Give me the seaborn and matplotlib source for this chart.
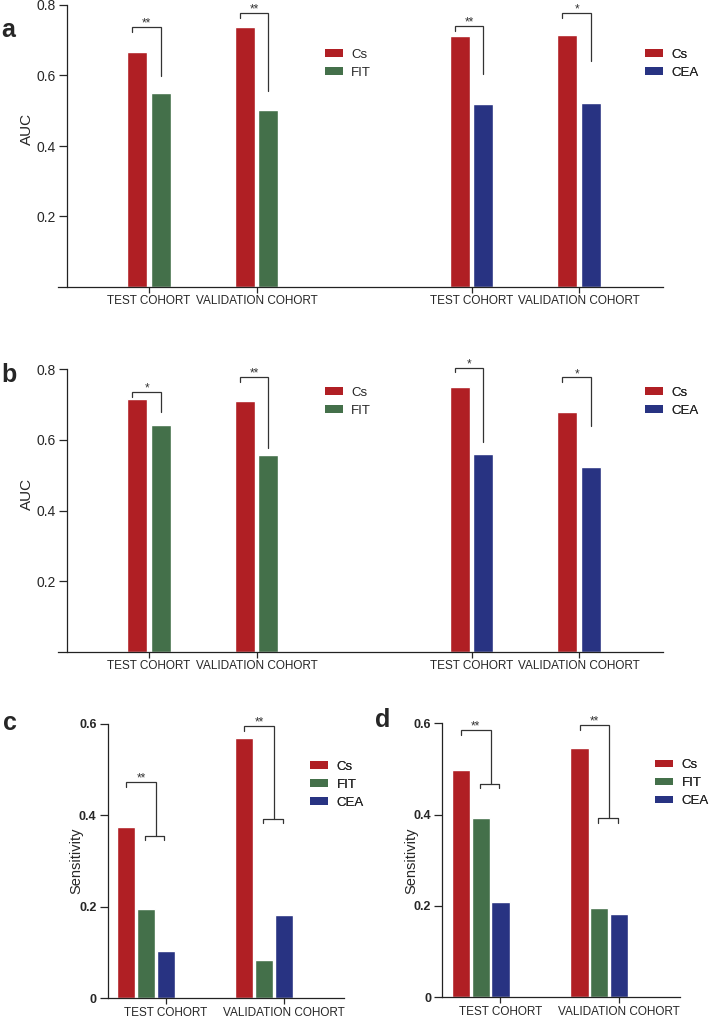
import matplotlib
matplotlib.use("Agg")
from matplotlib import pyplot as plt
from matplotlib.patches import Patch
import pandas as pd
import seaborn as sns

cohorts = ["TEST COHORT", "VALIDATION COHORT"]

# panel a: AUC
a_fit_cs = [0.667, 0.739]
a_fit = [0.549, 0.502]
a_cea_cs = [0.711, 0.716]
a_cea = [0.519, 0.522]
a_fit_stars = ["**", "**"]
a_cea_stars = ["**", "*"]
a_fit_top = [0.737, 0.778]
a_fit_end = [0.599, 0.556]
a_cea_top = [0.740, 0.777]
a_cea_end = [0.604, 0.641]

# panel b: AUC
b_fit_cs = [0.715, 0.710]
b_fit = [0.642, 0.556]
b_cea_cs = [0.749, 0.679]
b_cea = [0.559, 0.524]
b_fit_stars = ["*", "**"]
b_cea_stars = ["*", "*"]
b_fit_top = [0.735, 0.779]
b_fit_end = [0.678, 0.576]
b_cea_top = [0.805, 0.777]
b_cea_end = [0.593, 0.640]

# panel c / d: sensitivity
c_cs = [0.375, 0.570]
c_fit = [0.195, 0.084]
c_cea = [0.104, 0.182]
c_top = [0.4725, 0.596]
c_join = [0.356, 0.392]
c_stars = ["**", "**"]

d_cs = [0.497, 0.545]
d_fit = [0.392, 0.196]
d_cea = [0.208, 0.182]
d_top = [0.586, 0.596]
d_join = [0.468, 0.392]
d_stars = ["**", "**"]

RED = "#b01f24"
GREEN = "#44704a"
BLUE = "#283382"
LINE = "#333333"

sns.set_style("ticks")
plt.rcParams["font.family"] = ["Liberation Sans", "DejaVu Sans"]
plt.rcParams["axes.linewidth"] = 0.9
plt.rcParams["axes.edgecolor"] = "#222222"

fig = plt.figure(figsize=(7.11, 10.19), dpi=100)
W, H = 711, 1019


def add_ax(left, right, top, bottom):
    return fig.add_axes([left / W, 1 - bottom / H, (right - left) / W, (bottom - top) / H])


def bracket(ax, x0, x1, top, end, drop, stars):
    ax.plot([x0, x0, x1, x1], [top - drop, top, top, end], color=LINE, lw=0.9,
            clip_on=False, solid_joinstyle="miter")
    ax.annotate(stars, xy=((x0 + x1) / 2, top), xytext=(0, 2.5), textcoords="offset points",
                ha="center", va="center", fontsize=8.5, color=LINE, annotation_clip=False)


def centers(container):
    return sorted(p.get_x() + p.get_width() / 2 for p in container)


def style_axis(ax, yticks, ylabel, fs):
    sns.despine(ax=ax)
    ax.set_yticks(yticks)
    ax.set_yticklabels([("%g" % v) for v in yticks], fontweight="bold", fontsize=9)
    ax.tick_params(axis="y", length=6, width=0.9, pad=2)
    ax.tick_params(axis="x", length=4, width=0.9, pad=2, labelsize=8.5)
    ax.set_xlabel("")
    ax.set_ylabel(ylabel, fontsize=fs)


def legend(ax, labels, colors, x, y):
    handles = [Patch(facecolor=c, edgecolor="none") for c in colors]
    lg = ax.legend(handles, labels, loc="upper left", bbox_to_anchor=(x, y), frameon=False,
                   fontsize=9.5, handlelength=1.35, handleheight=0.47, handletextpad=0.65,
                   labelspacing=0.45, borderpad=0, borderaxespad=0)
    ax.add_artist(lg)


def auc_panel(ax, fit_cs, fit, cea_cs, cea, fit_stars, cea_stars,
              fit_top, fit_end, cea_top, cea_end, leg_y):
    left = pd.DataFrame({"pos": [0, 1, 0, 1], "AUC": fit_cs + fit,
                         "marker": ["Cs"] * 2 + ["FIT"] * 2})
    right = pd.DataFrame({"pos": [3, 4, 3, 4], "AUC": cea_cs + cea,
                          "marker": ["Cs"] * 2 + ["CEA"] * 2})
    sns.barplot(data=left, x="pos", y="AUC", hue="marker", hue_order=["Cs", "FIT"],
                palette=[RED, GREEN], saturation=1, native_scale=True, width=0.44, gap=0.15,
                errorbar=None, legend=False, ax=ax)
    sns.barplot(data=right, x="pos", y="AUC", hue="marker", hue_order=["Cs", "CEA"],
                palette=[RED, BLUE], saturation=1, native_scale=True, width=0.44, gap=0.15,
                errorbar=None, legend=False, ax=ax)
    cs1, fit1, cs2, cea2 = [centers(c) for c in ax.containers]
    for i in range(2):
        bracket(ax, cs1[i] - 0.045, fit1[i], fit_top[i], fit_end[i], 0.014, fit_stars[i])
        bracket(ax, cs2[i] - 0.045, cea2[i], cea_top[i], cea_end[i], 0.014, cea_stars[i])
    ax.set_xlim(-0.847, 4.781)
    ax.set_ylim(0, 0.8)
    ax.set_xticks([0, 1, 3, 4])
    ax.set_xticklabels(cohorts + cohorts)
    style_axis(ax, [0.2, 0.4, 0.6, 0.8], "AUC", 11)
    ax.spines["left"].set_position(("data", -0.763))
    ax.yaxis.set_label_coords(-0.040, 0.56)
    legend(ax, ["Cs", "FIT"], [RED, GREEN], 0.441, leg_y)
    legend(ax, ["Cs", "CEA"], [RED, BLUE], 0.970, leg_y)


def sens_panel(ax, cs, fit, cea, top, join, stars, leg_x, leg_y, label_x):
    df = pd.DataFrame({"pos": [0, 1] * 3, "Sensitivity": cs + fit + cea,
                       "marker": ["Cs"] * 2 + ["FIT"] * 2 + ["CEA"] * 2})
    sns.barplot(data=df, x="pos", y="Sensitivity", hue="marker",
                hue_order=["Cs", "FIT", "CEA"], palette=[RED, GREEN, BLUE], saturation=1,
                native_scale=True, width=0.5, gap=0.08, errorbar=None, legend=False, ax=ax)
    r, g, b = [centers(c) for c in ax.containers]
    for i in range(2):
        mid = (g[i] + b[i]) / 2
        bracket(ax, r[i], mid, top[i], join[i], 0.011, stars[i])
        ax.plot([g[i] - 0.01, g[i] - 0.01, b[i] - 0.01, b[i] - 0.01],
                [join[i] - 0.0095, join[i], join[i], join[i] - 0.0095],
                color=LINE, lw=0.9, clip_on=False)
    ax.set_xlim(-0.324, 1.68)
    ax.set_ylim(0, 0.6)
    ax.set_xticks(b)
    ax.set_xticklabels(cohorts)
    style_axis(ax, [0, 0.2, 0.4, 0.6], "Sensitivity", 10.5)
    ax.yaxis.set_label_coords(label_x, 0.5)
    legend(ax, ["Cs", "FIT", "CEA"], [RED, GREEN, BLUE], leg_x, leg_y)


ax_a = add_ax(58, 663, 5, 287)
ax_b = add_ax(58, 663, 369.3, 651.7)
ax_c = add_ax(107.7, 344.3, 724, 998.3)
ax_d = add_ax(442.3, 680, 723.3, 997.3)

auc_panel(ax_a, a_fit_cs, a_fit, a_cea_cs, a_cea, a_fit_stars, a_cea_stars,
          a_fit_top, a_fit_end, a_cea_top, a_cea_end, 0.845)
auc_panel(ax_b, b_fit_cs, b_fit, b_cea_cs, b_cea, b_fit_stars, b_cea_stars,
          b_fit_top, b_fit_end, b_cea_top, b_cea_end, 0.938)
sens_panel(ax_c, c_cs, c_fit, c_cea, c_top, c_join, c_stars, 0.855, 0.866, -0.104)
sens_panel(ax_d, d_cs, d_fit, d_cea, d_top, d_join, d_stars, 0.895, 0.868, -0.099)

for letter, x, y in [("a", 1, 36.7), ("b", 1, 382.3), ("c", 3, 730), ("d", 375, 727.3)]:
    fig.text(x / W, 1 - y / H, letter, fontsize=18, fontweight="bold", va="baseline")

fig.savefig("out.png", dpi=100)
